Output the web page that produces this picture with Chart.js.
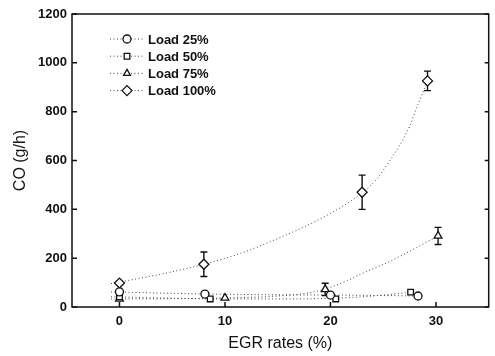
<!DOCTYPE html>
<html>
<head>
<meta charset="utf-8">
<script src="https://cdn.jsdelivr.net/npm/chart.js@4"></script>
<style>
  html, body { margin: 0; padding: 0; background: #fff; }
  #wrap { width: 495px; height: 356px; }
</style>
</head>
<body>
<div id="wrap"><canvas id="chart" width="495" height="356"></canvas></div>
<script>
// measured points (EGR %, CO g/h)
var egr25 = [0, 8.1, 20, 28.3];
var co25 = [62, 53, 49, 45];
var egr50 = [0, 8.6, 20.5, 27.6];
var co50 = [42, 33, 33, 61];
var egr75 = [0, 10, 19.5, 30.2];
var co75 = [33, 37, 72, 291];
var err75 = [0, 0, 25, 35];
var egr100 = [0, 8, 23, 29.2];
var co100 = [98, 175, 470, 926];
var err100 = [0, 50, 70, 40];

// dotted trend lines
var fit25X = [-0.8, 5, 10, 15, 20, 25, 28.3];
var fit25Y = [62, 56, 52, 50, 49, 47, 45];
var fit50X = [-0.8, 5, 10, 15, 20.5, 24, 27.6];
var fit50Y = [42, 36, 33, 33, 36, 45, 60];
var fit75X = [-0.8, 5, 10, 15, 18, 19.8, 21.6, 23.1, 25.3, 27.2, 30.2];
var fit75Y = [33, 34, 37, 45, 58, 78, 108, 139, 180, 221, 291];
var fit100X = [-0.8, 4, 8, 11.5, 14.7, 19.4, 23.1, 24.4, 25.6, 26.5, 27.5, 28.3, 29.2];
var fit100Y = [96, 135, 175, 220, 275, 369, 471, 525, 598, 658, 740, 830, 926];

var seriesNames = ["Load 25%", "Load 50%", "Load 75%", "Load 100%"];
var markerStyles = ["circle", "rect", "triangle", "rectRot"];
var xTicks = [0, 10, 20, 30];
var yTicks = [0, 200, 400, 600, 800, 1000, 1200];

var ink = "#111";
var fontFam = "'Liberation Sans', Arial, sans-serif";

function pts(xs, ys) {
  return xs.map(function (x, i) { return { x: x, y: ys[i] }; });
}

function fitLine(xs, ys) {
  return {
    data: pts(xs, ys),
    showLine: true,
    borderColor: "#444",
    borderWidth: 1,
    borderDash: [1, 2.5],
    pointRadius: 0,
    cubicInterpolationMode: "monotone",
    order: 2,
  };
}

function markers(xs, ys, style, r) {
  return {
    data: pts(xs, ys),
    showLine: false,
    pointStyle: style,
    pointRadius: r,
    pointBackgroundColor: "#fff",
    pointBorderColor: ink,
    pointBorderWidth: 1.3,
    order: 0,
  };
}

var errorBars = {
  id: "errorBars",
  beforeDatasetsDraw: function (chart) {
    var ctx = chart.ctx, xs = chart.scales.x, ys = chart.scales.y;
    var sets = [[egr75, co75, err75], [egr100, co100, err100]];
    ctx.save();
    ctx.strokeStyle = ink;
    ctx.lineWidth = 1.4;
    sets.forEach(function (s) {
      s[0].forEach(function (x, i) {
        var e = s[2][i];
        if (!e) return;
        var px = xs.getPixelForValue(x);
        var top = ys.getPixelForValue(s[1][i] + e);
        var bot = ys.getPixelForValue(s[1][i] - e);
        ctx.beginPath();
        ctx.moveTo(px, top); ctx.lineTo(px, bot);
        ctx.moveTo(px - 3.5, top); ctx.lineTo(px + 3.5, top);
        ctx.moveTo(px - 3.5, bot); ctx.lineTo(px + 3.5, bot);
        ctx.stroke();
      });
    });
    ctx.restore();
  },
};

var frame = {
  id: "frame",
  afterDraw: function (chart) {
    var ctx = chart.ctx, a = chart.chartArea;
    var xs = chart.scales.x, ys = chart.scales.y;
    ctx.save();
    ctx.strokeStyle = ink;
    ctx.lineWidth = 1.5;
    ctx.strokeRect(a.left, a.top, a.right - a.left, a.bottom - a.top);
    // inward ticks
    ctx.beginPath();
    xTicks.forEach(function (t) {
      var px = xs.getPixelForValue(t);
      ctx.moveTo(px, a.bottom); ctx.lineTo(px, a.bottom - 5);
    });
    yTicks.forEach(function (t) {
      var py = ys.getPixelForValue(t);
      ctx.moveTo(a.left, py); ctx.lineTo(a.left + 5, py);
      ctx.moveTo(a.right, py); ctx.lineTo(a.right - 4, py);
    });
    ctx.stroke();

    // legend
    var lx = 110, ly = 39, step = 17.2;
    seriesNames.forEach(function (name, i) {
      var y = ly + i * step;
      ctx.setLineDash([1, 2.5]);
      ctx.lineWidth = 1;
      ctx.strokeStyle = "#444";
      ctx.beginPath();
      ctx.moveTo(lx, y); ctx.lineTo(lx + 33, y);
      ctx.stroke();
      ctx.setLineDash([]);
      ctx.lineWidth = 1.3;
      ctx.strokeStyle = ink;
      ctx.fillStyle = "#fff";
      Chart.helpers.drawPoint(ctx, { pointStyle: markerStyles[i], radius: i === 3 ? 5 : 4, borderWidth: 1.3, rotation: 0 }, lx + 17, y);
      ctx.fillStyle = ink;
      ctx.font = "bold 13px " + fontFam;
      ctx.textBaseline = "middle";
      ctx.fillText(name, lx + 38, y + 1);
    });
    ctx.restore();
  },
};

new Chart(document.getElementById("chart"), {
  type: "scatter",
  data: {
    datasets: [
      markers(egr25, co25, markerStyles[0], 4),
      markers(egr50, co50, markerStyles[1], 4),
      markers(egr75, co75, markerStyles[2], 4.5),
      markers(egr100, co100, markerStyles[3], 5),
      fitLine(fit25X, fit25Y),
      fitLine(fit50X, fit50Y),
      fitLine(fit75X, fit75Y),
      fitLine(fit100X, fit100Y),
    ],
  },
  options: {
    responsive: false,
    animation: false,
    layout: { padding: { top: 14, right: 1, left: 0, bottom: 0 } },
    plugins: { legend: { display: false }, tooltip: { enabled: false } },
    scales: {
      x: {
        type: "linear",
        min: -4.5,
        max: 35,
        afterBuildTicks: function (s) { s.ticks = xTicks.map(function (v) { return { value: v }; }); },
        afterFit: function (s) { s.height = 49; },
        grid: { drawOnChartArea: false, drawTicks: false },
        border: { display: false },
        ticks: { color: ink, padding: 7, font: { family: fontFam, size: 13, weight: "bold" }, callback: function (v) { return String(v); } },
        title: { display: true, text: "EGR rates (%)", color: ink, padding: { top: 4, bottom: 3 }, font: { family: fontFam, size: 16 } },
      },
      y: {
        type: "linear",
        min: 0,
        max: 1200,
        afterBuildTicks: function (s) { s.ticks = yTicks.map(function (v) { return { value: v }; }); },
        afterFit: function (s) { s.width = 72; },
        grid: { drawOnChartArea: false, drawTicks: false },
        border: { display: false },
        ticks: { color: ink, padding: 5, font: { family: fontFam, size: 13, weight: "bold" }, callback: function (v) { return String(v); } },
        title: { display: true, text: "CO (g/h)", color: ink, padding: { top: 11, bottom: 0 }, font: { family: fontFam, size: 16 } },
      },
    },
  },
  plugins: [errorBars, frame],
});
</script>
</body>
</html>
